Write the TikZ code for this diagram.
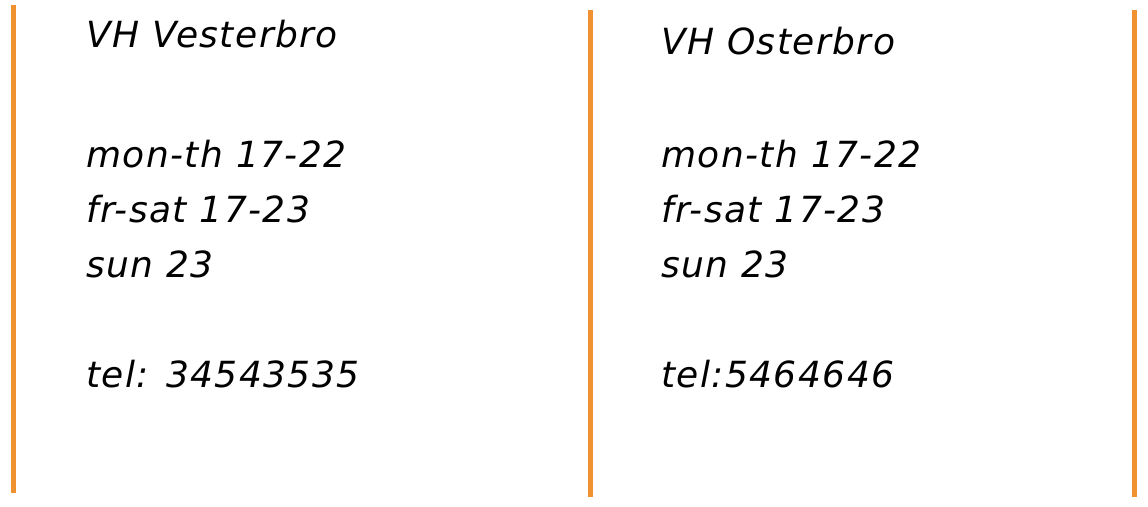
\documentclass[tikz,border=0pt]{standalone}
\usepackage{fontspec}
\newfontfamily\signfont[LetterSpace=4]{DejaVu Sans Oblique}
\definecolor{barorange}{HTML}{F0922F}
\tikzset{
  bar/.style={draw=barorange, line width=5pt},
  txt/.style={anchor=base west, inner sep=0pt, font=\signfont\fontsize{36}{40}\selectfont, text=black}
}
\begin{document}
\begin{tikzpicture}[x=1pt,y=-1pt]
\useasboundingbox (0,0) rectangle (1148,506);
% orange bars
\coordinate (b1t) at (13.5,5);   \coordinate (b1b) at (13.5,493);
\coordinate (b2t) at (590,10);   \coordinate (b2b) at (590,497);
\coordinate (b3t) at (1134.5,10);\coordinate (b3b) at (1134.5,497);
\draw[bar] (b1t) -- (b1b);
\draw[bar] (b2t) -- (b2b);
\draw[bar] (b3t) -- (b3b);
% left column
\node[txt] (l1) at (86,47) {VH Vesterbro};
\node[txt] (l2) at (86,167) {mon-th 17-22};
\node[txt] (l3) at (86,222) {fr-sat 17-23};
\node[txt] (l4) at (86,277) {sun 23};
\node[txt] (l5) at (86,387) {tel: 34543535};
% right column
\node[txt] (r1) at (661,54) {VH Osterbro};
\node[txt] (r2) at (661,167) {mon-th 17-22};
\node[txt] (r3) at (661,222) {fr-sat 17-23};
\node[txt] (r4) at (661,277) {sun 23};
\node[txt] (r5) at (661,387) {tel:5464646};
\end{tikzpicture}
\end{document}
